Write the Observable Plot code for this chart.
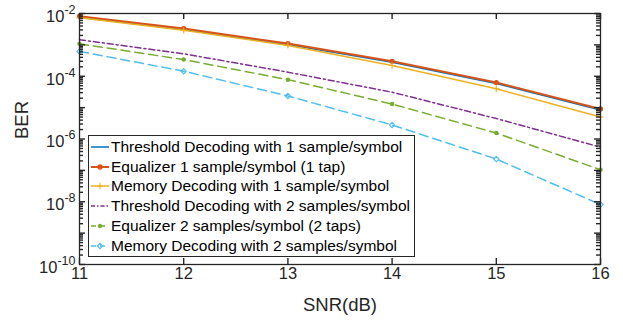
<!DOCTYPE html>
<html>
<head>
<meta charset="utf-8">
<script src="https://cdn.jsdelivr.net/npm/d3@7"></script>
<script src="https://cdn.jsdelivr.net/npm/@observablehq/plot@0.6"></script>
<style>
  html, body { margin: 0; padding: 0; background: #fff; }
  #wrap { position: relative; width: 623px; height: 320px; font-family: "Liberation Sans", Arial, Helvetica, sans-serif; }
  #legend { position: absolute; left: 88px; top: 135px; width: 325px; height: 119px; border: 1px solid #262626; background: #fff; box-sizing: content-box; padding-top: 1px; }
  .row { display: flex; align-items: center; height: 19.8px; font-size: 15.5px; color: #000; white-space: nowrap; }
  .row svg { flex: none; margin-left: 1px; margin-right: 1px; }
</style>
</head>
<body>
<div id="wrap"></div>
<script>
// ---- data ----
const snr = [11, 12, 13, 14, 15, 16];
const seriesNames = [
  "Threshold Decoding with 1 sample/symbol",
  "Equalizer 1 sample/symbol (1 tap)",
  "Memory Decoding with 1 sample/symbol",
  "Threshold Decoding with 2 samples/symbol",
  "Equalizer 2 samples/symbol (2 taps)",
  "Memory Decoding with 2 samples/symbol"
];
const thr1 = [7.6e-3, 3.1e-3, 1.03e-3, 2.8e-4, 5.9e-5, 8.4e-6];
const eq1  = [8.2e-3, 3.3e-3, 1.1e-3, 3.0e-4, 6.3e-5, 9.1e-6];
const mem1 = [7.3e-3, 2.9e-3, 9.6e-4, 2.2e-4, 4.0e-5, 5.0e-6];
const thr2 = [1.46e-3, 5.2e-4, 1.35e-4, 3.1e-5, 4.5e-6, 5.5e-7];
const eq2  = [1.08e-3, 3.4e-4, 7.8e-5, 1.3e-5, 1.55e-6, 1.05e-7];
const mem2 = [6.2e-4, 1.45e-4, 2.35e-5, 2.8e-6, 2.3e-7, 8.1e-9];
const xTicks = [11, 12, 13, 14, 15, 16];
const yLabelExps = [-10, -8, -6, -4, -2];
const xLabel = "SNR(dB)";
const yLabel = "BER";

// ---- styles ----
const colors = ["#0072BD", "#D95319", "#EDB120", "#7E2F8E", "#77AC30", "#4DBEEE"];
const dashes = [null, null, null, "6,3,2,3", "9,5", "9,5"];
const widths = [1.5, 2, 1.5, 1.5, 1.5, 1.5];
const symbols = [null, "circle", "plus", null, "circle", "diamond2"];
const symR = [0, 2.1, 2.2, 0, 1.7, 2.4];
const symFill = [false, true, false, false, true, false];
const axisColor = "#262626";

const W = 623, H = 320, mL = 79, mR = 23, mT = 13, mB = 56;
const innerW = W - mL - mR, innerH = H - mT - mB;
const xDom = [11, 16], yDom = [1e-10, 1e-2];

const values = [thr1, eq1, mem1, thr2, eq2, mem2];
const rows = [];
values.forEach((arr, s) => arr.forEach((v, i) => rows.push({snr: snr[i], ber: v, s})));

const majorY = d3.range(-10, -1).map(k => Math.pow(10, k));
const minorY = [];
for (let k = -10; k < -2; k++) for (let m = 2; m <= 9; m++) minorY.push(m * Math.pow(10, k));
const labelY = yLabelExps.map(k => Math.pow(10, k));

// tick lengths converted from pixels to domain units
const xPer = (xDom[1] - xDom[0]) / innerW;
const decPer = Math.log10(yDom[1] / yDom[0]) / innerH;
const tx = px => px * xPer;
const ty = px => Math.pow(10, px * decPer);
const tk = {stroke: axisColor, strokeWidth: 1.4};

const marks = [];
values.forEach((arr, s) => {
  marks.push(Plot.line(rows.filter(d => d.s === s), {
    x: "snr", y: "ber", stroke: colors[s], strokeWidth: widths[s],
    strokeDasharray: dashes[s] || undefined
  }));
  if (symbols[s]) {
    marks.push(Plot.dot(rows.filter(d => d.s === s), {
      x: "snr", y: "ber", symbol: symbols[s], r: symR[s],
      fill: symFill[s] ? colors[s] : "none", stroke: colors[s], strokeWidth: 1.1
    }));
  }
});

marks.push(
  // inward ticks
  Plot.ruleY(majorY, {y: d => d, x1: xDom[0], x2: xDom[0] + tx(6), ...tk}),
  Plot.ruleY(minorY, {y: d => d, x1: xDom[0], x2: xDom[0] + tx(4), ...tk}),
  Plot.ruleY(majorY, {y: d => d, x1: xDom[1] - tx(6), x2: xDom[1], ...tk}),
  Plot.ruleY(minorY, {y: d => d, x1: xDom[1] - tx(4), x2: xDom[1], ...tk}),
  Plot.ruleX(xTicks, {x: d => d, y1: yDom[0], y2: yDom[0] * ty(6), ...tk}),
  Plot.ruleX(xTicks, {x: d => d, y1: yDom[1] / ty(6), y2: yDom[1], ...tk}),
  Plot.frame({stroke: axisColor, strokeWidth: 1.3}),
  // tick labels
  Plot.axisX(xTicks, {anchor: "bottom", tickSize: 0, tickPadding: 3, label: null, fontSize: 16.5, fill: axisColor}),
  Plot.axisY(labelY, {anchor: "left", tickSize: 0, tickPadding: 4, label: null, fontSize: 16.5, fill: axisColor,
    tickFormat: d => "10^" + Math.round(Math.log10(d))}),
  // axis titles
  Plot.text([xLabel], {frameAnchor: "bottom", dy: 41, fontSize: 18.5, fill: axisColor, lineAnchor: "middle"}),
  Plot.text([yLabel], {frameAnchor: "left", dx: -57, rotate: -90, fontSize: 18.5, fill: axisColor, lineAnchor: "middle"})
);

const chart = Plot.plot({
  width: W, height: H,
  marginLeft: mL, marginRight: mR, marginTop: mT, marginBottom: mB,
  x: {domain: xDom},
  y: {type: "log", domain: yDom},
  style: {fontFamily: "'Liberation Sans', Arial, Helvetica, sans-serif", fontSize: "16.5px", color: axisColor, background: "#fff", overflow: "visible"},
  marks
});

// superscript exponents on y tick labels
d3.select(chart).selectAll('g[aria-label="y-axis tick label"] text').each(function() {
  const t = this.textContent;
  if (!t.includes("^")) return;
  const [base, exp] = t.split("^");
  const sel = d3.select(this);
  sel.text("");
  sel.append("tspan").attr("dy", 3).text(base);
  sel.append("tspan").attr("dy", -8).attr("font-size", 12.5).text(exp);
});

const wrap = document.getElementById("wrap");
wrap.appendChild(chart);

// legend
const legend = document.createElement("div");
legend.id = "legend";
seriesNames.forEach((name, s) => {
  const row = document.createElement("div");
  row.className = "row";
  const svg = d3.create("svg").attr("width", 20).attr("height", 10);
  svg.append("line").attr("x1", 1).attr("x2", 19).attr("y1", 5).attr("y2", 5)
    .attr("stroke", colors[s]).attr("stroke-width", widths[s])
    .attr("stroke-dasharray", s === 3 ? "4,2,1.5,2" : (dashes[s] ? "5,4" : null));
  if (symbols[s]) {
    const sym = {circle: d3.symbolCircle, plus: d3.symbolPlus, diamond2: d3.symbolDiamond2}[symbols[s]];
    const r = symR[s];
    svg.append("path").attr("transform", "translate(10,5)")
      .attr("d", d3.symbol(sym, Math.PI * r * r)())
      .attr("fill", symFill[s] ? colors[s] : "none").attr("stroke", colors[s]).attr("stroke-width", 1.1);
  }
  row.appendChild(svg.node());
  const span = document.createElement("span");
  span.textContent = name;
  row.appendChild(span);
  legend.appendChild(row);
});
wrap.appendChild(legend);
</script>
</body>
</html>
